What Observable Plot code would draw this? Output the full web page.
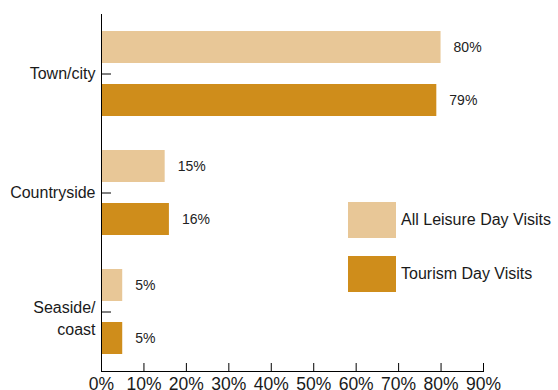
<!DOCTYPE html>
<html>
<head>
<meta charset="utf-8">
<script src="https://cdn.jsdelivr.net/npm/d3@7"></script>
<script src="https://cdn.jsdelivr.net/npm/@observablehq/plot@0.6"></script>
<style>
  html, body { margin: 0; padding: 0; background: #fff; }
  #chart { position: relative; width: 558px; height: 390px; font-family: "Liberation Sans", Arial, sans-serif; color: #1a1a1a; }
  .legend { position: absolute; left: 348px; top: 202px; font-size: 16px; }
  .legend .item { display: flex; align-items: center; height: 36px; margin-bottom: 18px; }
  .legend .swatch { width: 48px; height: 36px; margin-right: 5px; }
</style>
</head>
<body>
<div id="chart"></div>
<script>
// Day visits by destination type (% of visits)
const categories = ["Town/city", "Countryside", "Seaside/\ncoast"];
const series = ["All Leisure Day Visits", "Tourism Day Visits"];
const leisureValues = [80, 15, 5];
const tourismValues = [79, 16, 5];
const xTicks = [0, 10, 20, 30, 40, 50, 60, 70, 80, 90];
const colors = ["#E8C797", "#CF8D1B"];

const rows = categories.flatMap((category, i) => [
  {category, series: series[0], value: leisureValues[i]},
  {category, series: series[1], value: tourismValues[i]}
]);

const chart = Plot.plot({
  width: 558,
  height: 390,
  marginTop: 14,
  marginBottom: 19,
  marginLeft: 101,
  marginRight: 75,
  style: {fontFamily: "Liberation Sans, Arial, sans-serif", color: "#1a1a1a", background: "transparent"},
  x: {domain: [0, 90], label: null},
  y: {domain: series, paddingInner: 0.39, paddingOuter: 0.3, axis: null},
  fy: {domain: categories, padding: 0, label: null},
  color: {domain: series, range: colors},
  marks: [
    Plot.barX(rows, {x: "value", y: "series", fy: "category", fill: "series"}),
    Plot.text(rows, {
      x: "value", y: "series", fy: "category",
      text: d => `${d.value}%`,
      textAnchor: "start", dx: 12.5, fontSize: 14, fill: "#222"
    }),
    Plot.ruleX([0], {stroke: "#000", strokeWidth: 1}),
    Plot.frame({anchor: "bottom", facetAnchor: "bottom", stroke: "#000"}),
    Plot.axisX({
      ticks: xTicks, tickFormat: d => `${d}%`,
      tickSize: 8, insetBottom: 8, tickPadding: 6.5,
      fontSize: 17.5, label: null, stroke: "#000"
    }),
    Plot.axisFy({
      anchor: "left",
      ticks: categories.slice(0, 2),
      tickSize: 10, insetLeft: 10, tickPadding: 6,
      fontSize: 16, label: null, stroke: "#000"
    }),
    Plot.axisFy({
      anchor: "left",
      ticks: categories.slice(2),
      tickSize: 0, tickPadding: 6, dy: 5,
      fontSize: 16, lineHeight: 1.35, label: null
    }),
    Plot.axisFy({
      anchor: "left",
      ticks: categories.slice(2), text: null,
      tickSize: 10, insetLeft: 10, label: null, stroke: "#000"
    })
  ]
});

const root = document.getElementById("chart");
root.appendChild(chart);

// Legend placed over the lower right of the plot area
const legend = document.createElement("div");
legend.className = "legend";
series.forEach((name, i) => {
  const item = document.createElement("div");
  item.className = "item";
  const sw = document.createElement("div");
  sw.className = "swatch";
  sw.style.background = colors[i];
  const label = document.createElement("span");
  label.textContent = name;
  item.appendChild(sw);
  item.appendChild(label);
  legend.appendChild(item);
});
root.appendChild(legend);
</script>
</body>
</html>
